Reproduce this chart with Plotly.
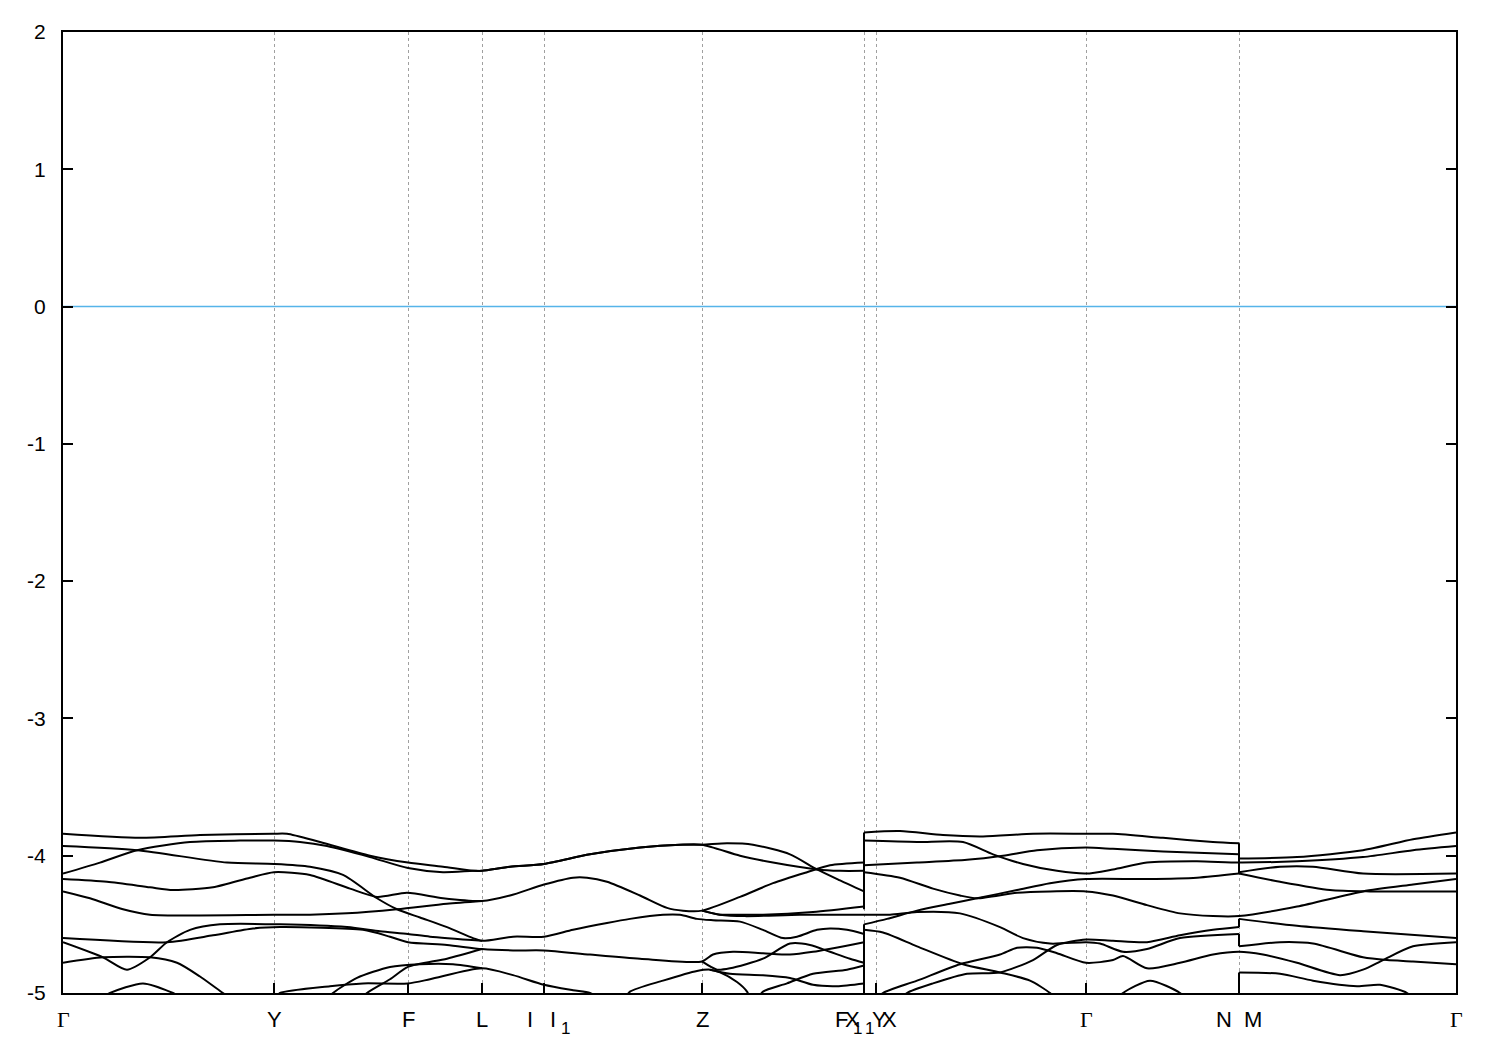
import plotly.graph_objects as go

# ---- high-symmetry points along the k-path ----
hs_k = [0.000, 0.211, 0.345, 0.419, 0.481, 0.639, 0.801, 0.813, 1.023, 1.176, 1.393]
k_end = 1.393
fermi_level = 0.0
y_ticks = [-5, -4, -3, -2, -1, 0, 1, 2]

# labels below the axis
label_main = [(0.000, "Γ"), (0.211, "Y"), (0.345, "F"), (0.419, "L"), (0.467, "I"),
              (0.490, "I"), (0.639, "Z"), (0.778, "F"), (0.789, "X"), (0.816, "Y"),
              (0.826, "X"), (1.023, "Γ"), (1.161, "N"), (1.190, "M"), (1.393, "Γ")]
label_sub = [(0.502, "1"), (0.794, "1"), (0.806, "1")]

# ---- band segments (k, E in eV) ----
band_a = [(0.000,-3.84),(0.077,-3.87),(0.137,-3.85),(0.210,-3.84),(0.224,-3.84),(0.257,-3.90),
          (0.307,-4.00),(0.345,-4.05),(0.380,-4.08),(0.410,-4.11),(0.419,-4.11),(0.447,-4.08),
          (0.481,-4.06),(0.527,-3.99),(0.577,-3.94),(0.617,-3.92),(0.639,-3.92),(0.664,-3.91),
          (0.690,-3.92),(0.727,-3.99),(0.754,-4.10),(0.777,-4.18),(0.801,-4.26)]
band_b = [(0.000,-3.93),(0.074,-3.96),(0.164,-4.05),(0.211,-4.06),(0.247,-4.08),(0.280,-4.14),
          (0.314,-4.31),(0.334,-4.39),(0.357,-4.45),(0.384,-4.52),(0.410,-4.60),(0.419,-4.62),
          (0.450,-4.59),(0.481,-4.59),(0.510,-4.54),(0.544,-4.49),(0.567,-4.46),(0.600,-4.43),
          (0.617,-4.43),(0.634,-4.46),(0.650,-4.47),(0.677,-4.48),(0.700,-4.54),(0.720,-4.60),
          (0.734,-4.59),(0.754,-4.54),(0.767,-4.53),(0.784,-4.54),(0.801,-4.57)]
band_c = [(0.000,-4.13),(0.037,-4.05),(0.074,-3.96),(0.127,-3.90),(0.177,-3.89),(0.211,-3.89),
          (0.237,-3.90),(0.264,-3.93),(0.307,-4.01),(0.345,-4.09),(0.380,-4.12),(0.410,-4.11),
          (0.419,-4.11),(0.447,-4.08),(0.481,-4.06),(0.527,-3.99),(0.577,-3.94),(0.617,-3.92),
          (0.639,-3.92),(0.677,-4.00),(0.710,-4.05),(0.754,-4.10),(0.777,-4.11),(0.801,-4.11)]
band_d = [(0.000,-4.17),(0.044,-4.19),(0.087,-4.23),(0.110,-4.25),(0.150,-4.23),(0.187,-4.16),
          (0.211,-4.12),(0.247,-4.14),(0.287,-4.24),(0.314,-4.30),(0.344,-4.27),(0.380,-4.31),
          (0.419,-4.33),(0.447,-4.29),(0.481,-4.21),(0.510,-4.16),(0.524,-4.16),(0.544,-4.19),
          (0.577,-4.29),(0.604,-4.38),(0.620,-4.40),(0.639,-4.40),(0.677,-4.30),(0.710,-4.20),
          (0.744,-4.12),(0.767,-4.07),(0.801,-4.05)]
band_e = [(0.000,-4.26),(0.027,-4.31),(0.060,-4.39),(0.087,-4.43),(0.211,-4.43),(0.247,-4.43),
          (0.284,-4.42),(0.334,-4.39),(0.384,-4.35),(0.419,-4.33)]
band_flat1 = [(0.639,-4.40),(0.657,-4.43),(0.682,-4.44),(0.737,-4.43),(0.801,-4.43),(0.827,-4.43),
              (0.854,-4.41),(0.897,-4.42),(0.937,-4.52),(0.960,-4.60),(0.987,-4.64),(1.023,-4.63),
              (1.037,-4.64),(1.060,-4.70),(1.084,-4.68),(1.117,-4.60),(1.176,-4.57)]
band_flat2 = [(1.176,-4.66),(1.217,-4.63),(1.250,-4.64),(1.300,-4.74),(1.324,-4.76),(1.350,-4.77),
              (1.393,-4.79)]
band_zf = [(0.639,-4.40),(0.657,-4.43),(0.667,-4.43),(0.700,-4.43),(0.750,-4.41),(0.801,-4.37)]
band_f = [(0.000,-4.60),(0.104,-4.63),(0.150,-4.58),(0.190,-4.53),(0.217,-4.52),(0.300,-4.54),
          (0.327,-4.59),(0.345,-4.63),(0.384,-4.65),(0.419,-4.68),(0.450,-4.69),(0.481,-4.69),
          (0.527,-4.72),(0.577,-4.75),(0.639,-4.77),(0.650,-4.72),(0.670,-4.70),(0.700,-4.71),
          (0.727,-4.72),(0.750,-4.70),(0.801,-4.63)]
band_fdown = [(0.639,-4.77),(0.654,-4.83),(0.667,-4.82),(0.700,-4.75),(0.727,-4.64),(0.747,-4.65),
              (0.767,-4.70),(0.787,-4.75),(0.801,-4.78)]
band_g = [(0.000,-4.63),(0.040,-4.74),(0.064,-4.83),(0.087,-4.74),(0.104,-4.63),(0.127,-4.54),
          (0.157,-4.50),(0.217,-4.50),(0.284,-4.52),(0.317,-4.55),(0.345,-4.57),(0.367,-4.59),
          (0.419,-4.62)]
band_h = [(0.000,-4.78),(0.040,-4.74),(0.087,-4.74),(0.114,-4.78),(0.137,-4.88),(0.160,-5.00),
          (0.172,-5.05)]
band_bump1 = [(0.037,-5.04),(0.047,-5.00),(0.080,-4.93),(0.110,-5.00),(0.120,-5.04)]
band_h2 = [(0.212,-5.04),(0.217,-5.00),(0.267,-4.95),(0.300,-4.93),(0.345,-4.93),(0.367,-4.90),
           (0.419,-4.82),(0.450,-4.87),(0.481,-4.94),(0.510,-4.98),(0.527,-5.00),(0.537,-5.04)]
band_i2 = [(0.265,-5.04),(0.270,-5.00),(0.294,-4.89),(0.327,-4.81),(0.357,-4.79),(0.390,-4.79),
           (0.419,-4.82)]
band_j2 = [(0.299,-5.04),(0.304,-5.00),(0.327,-4.90),(0.345,-4.81),(0.384,-4.75),(0.419,-4.68)]
band_s5 = [(0.562,-5.04),(0.567,-4.99),(0.600,-4.91),(0.634,-4.84),(0.647,-4.83),(0.657,-4.85),
           (0.674,-4.92),(0.684,-4.99),(0.687,-5.04)]
band_l7 = [(0.647,-4.83),(0.667,-4.86),(0.700,-4.87),(0.727,-4.89),(0.750,-4.94),(0.774,-4.95),
           (0.801,-4.93)]
band_l8 = [(0.695,-5.04),(0.700,-4.99),(0.724,-4.93),(0.750,-4.86),(0.784,-4.83),(0.801,-4.80)]
band_q1 = [(0.801,-3.83),(0.837,-3.82),(0.880,-3.85),(0.920,-3.86),(0.970,-3.84),(1.023,-3.84),
           (1.050,-3.84),(1.100,-3.87),(1.150,-3.90),(1.176,-3.91)]
band_q2 = [(0.801,-3.89),(0.854,-3.90),(0.900,-3.90),(0.930,-3.99),(0.960,-4.06),(0.994,-4.11),
           (1.023,-4.13),(1.050,-4.10),(1.084,-4.05),(1.134,-4.04),(1.176,-4.05),(1.234,-4.04),
           (1.300,-4.01),(1.350,-3.96),(1.393,-3.93)]
band_q3 = [(0.801,-4.07),(0.854,-4.05),(0.904,-4.03),(0.940,-4.00),(0.974,-3.96),(1.023,-3.94),
           (1.050,-3.95),(1.100,-3.97),(1.176,-3.99)]
band_w1 = [(1.176,-4.02),(1.234,-4.01),(1.300,-3.96),(1.350,-3.88),(1.393,-3.83)]
band_q4 = [(0.801,-4.12),(0.837,-4.16),(0.870,-4.24),(0.897,-4.29),(0.914,-4.31),(0.954,-4.27),
           (0.987,-4.26),(1.023,-4.26),(1.050,-4.29),(1.084,-4.36),(1.117,-4.42),(1.150,-4.44),
           (1.176,-4.44),(1.234,-4.37),(1.300,-4.26),(1.350,-4.21),(1.393,-4.17)]
band_rise = [(0.801,-4.50),(0.824,-4.46),(0.854,-4.40),(0.887,-4.35),(0.914,-4.31),(0.954,-4.25),
             (0.987,-4.20),(1.023,-4.17),(1.084,-4.17),(1.134,-4.16),(1.176,-4.13)]
band_w3 = [(1.176,-4.12),(1.217,-4.08),(1.250,-4.08),(1.300,-4.13),(1.393,-4.13)]
band_w4 = [(1.176,-4.13),(1.217,-4.19),(1.267,-4.25),(1.307,-4.26),(1.393,-4.26)]
band_q6 = [(0.801,-4.54),(0.820,-4.56),(0.854,-4.66),(0.900,-4.79),(0.937,-4.85),(0.967,-4.91),
           (0.987,-5.00),(0.992,-5.04)]
band_q8 = [(0.815,-5.04),(0.820,-5.00),(0.854,-4.91),(0.897,-4.79),(0.937,-4.72),(0.954,-4.67),
           (0.974,-4.67),(0.994,-4.71),(1.023,-4.78),(1.050,-4.76),(1.060,-4.73),(1.084,-4.82),
           (1.117,-4.78),(1.150,-4.72),(1.176,-4.70),(1.200,-4.72),(1.234,-4.78),(1.277,-4.87),
           (1.300,-4.83),(1.320,-4.76),(1.350,-4.66),(1.393,-4.63)]
band_q9a = [(0.839,-5.04),(0.844,-5.00),(0.870,-4.93),(0.904,-4.86),(0.937,-4.85),(0.970,-4.76),
            (0.994,-4.65),(1.023,-4.61),(1.050,-4.62),(1.084,-4.63),(1.117,-4.58),(1.150,-4.54),
            (1.176,-4.52)]
band_q9b = [(1.176,-4.46),(1.234,-4.51),(1.300,-4.55),(1.393,-4.60)]
band_z9 = [(1.055,-5.04),(1.060,-5.00),(1.087,-4.91),(1.117,-5.00),(1.122,-5.04)]
band_w9 = [(1.176,-4.85),(1.217,-4.86),(1.250,-4.91),(1.294,-4.95),(1.317,-4.94),
           (1.344,-5.00),(1.349,-5.04)]

# vertical connections at the path discontinuities (F1|X1 and N|M)
jump_f1_top = [(0.801,-3.83),(0.801,-4.39)]
jump_f1_bot = [(0.801,-4.50),(0.801,-5.05)]
jump_n_top = [(1.176,-3.91),(1.176,-4.13)]
jump_n_mid1 = [(1.176,-4.46),(1.176,-4.52)]
jump_n_mid2 = [(1.176,-4.57),(1.176,-4.66)]
jump_n_bot = [(1.176,-4.85),(1.176,-5.05)]

segments = [band_a, band_b, band_c, band_d, band_e, band_flat1, band_flat2, band_zf, band_f,
            band_fdown, band_g, band_h, band_bump1, band_h2, band_i2, band_j2, band_s5, band_l7,
            band_l8, band_q1, band_q2, band_q3, band_w1, band_q4, band_rise, band_w3, band_w4,
            band_q6, band_q8, band_q9a, band_q9b, band_z9, band_w9]
jumps = [jump_f1_top, jump_f1_bot, jump_n_top, jump_n_mid1, jump_n_mid2, jump_n_bot]

fig = go.Figure()
for seg in segments:
    fig.add_trace(go.Scatter(x=[p[0] for p in seg], y=[p[1] for p in seg], mode="lines",
                             line=dict(color="black", width=2, shape="spline", smoothing=0.7),
                             showlegend=False, hoverinfo="skip"))
for seg in jumps:
    fig.add_trace(go.Scatter(x=[p[0] for p in seg], y=[p[1] for p in seg], mode="lines",
                             line=dict(color="black", width=2), showlegend=False,
                             hoverinfo="skip"))

fig.add_trace(go.Scatter(x=[0.0, k_end], y=[fermi_level, fermi_level], mode="lines",
                         line=dict(color="#56b4e9", width=1.5), showlegend=False))

sans = "Liberation Sans, Arial, sans-serif"
serif = "Liberation Serif, Times New Roman, serif"
for k, t in label_main:
    fam = serif if t == "Γ" else sans
    fig.add_annotation(x=k, y=0, xref="x", yref="paper", text=t, showarrow=False,
                       yanchor="top", yshift=-12, font=dict(family=fam, size=22, color="black"))
for k, t in label_sub:
    fig.add_annotation(x=k, y=0, xref="x", yref="paper", text=t, showarrow=False,
                       yanchor="top", yshift=-24, font=dict(family=sans, size=17, color="black"))

# page body has an 8px margin; margins below compensate so the frame lands on the reference
fig.update_layout(
    width=1500, height=1050,
    margin=dict(l=55, r=52, t=21, b=65),
    plot_bgcolor="white", paper_bgcolor="white",
    font=dict(family=sans, size=21, color="black"),
    xaxis=dict(range=[0, k_end], tickvals=hs_k, showticklabels=False, ticks="inside",
               ticklen=10, tickwidth=1.5, tickcolor="black", showgrid=True,
               gridcolor="#a0a0a0", griddash="3px,3px", gridwidth=1, zeroline=False,
               showline=True, linecolor="black", linewidth=2, mirror=True),
    yaxis=dict(range=[-5, 2], tickvals=y_ticks, ticktext=[str(v) for v in y_ticks],
               ticks="inside", ticklen=10, tickwidth=1.5, tickcolor="black", showgrid=False,
               zeroline=False, showline=True, linecolor="black", linewidth=2, mirror="ticks",
               ticklabelstandoff=11),
)
fig.write_html("out.html")
